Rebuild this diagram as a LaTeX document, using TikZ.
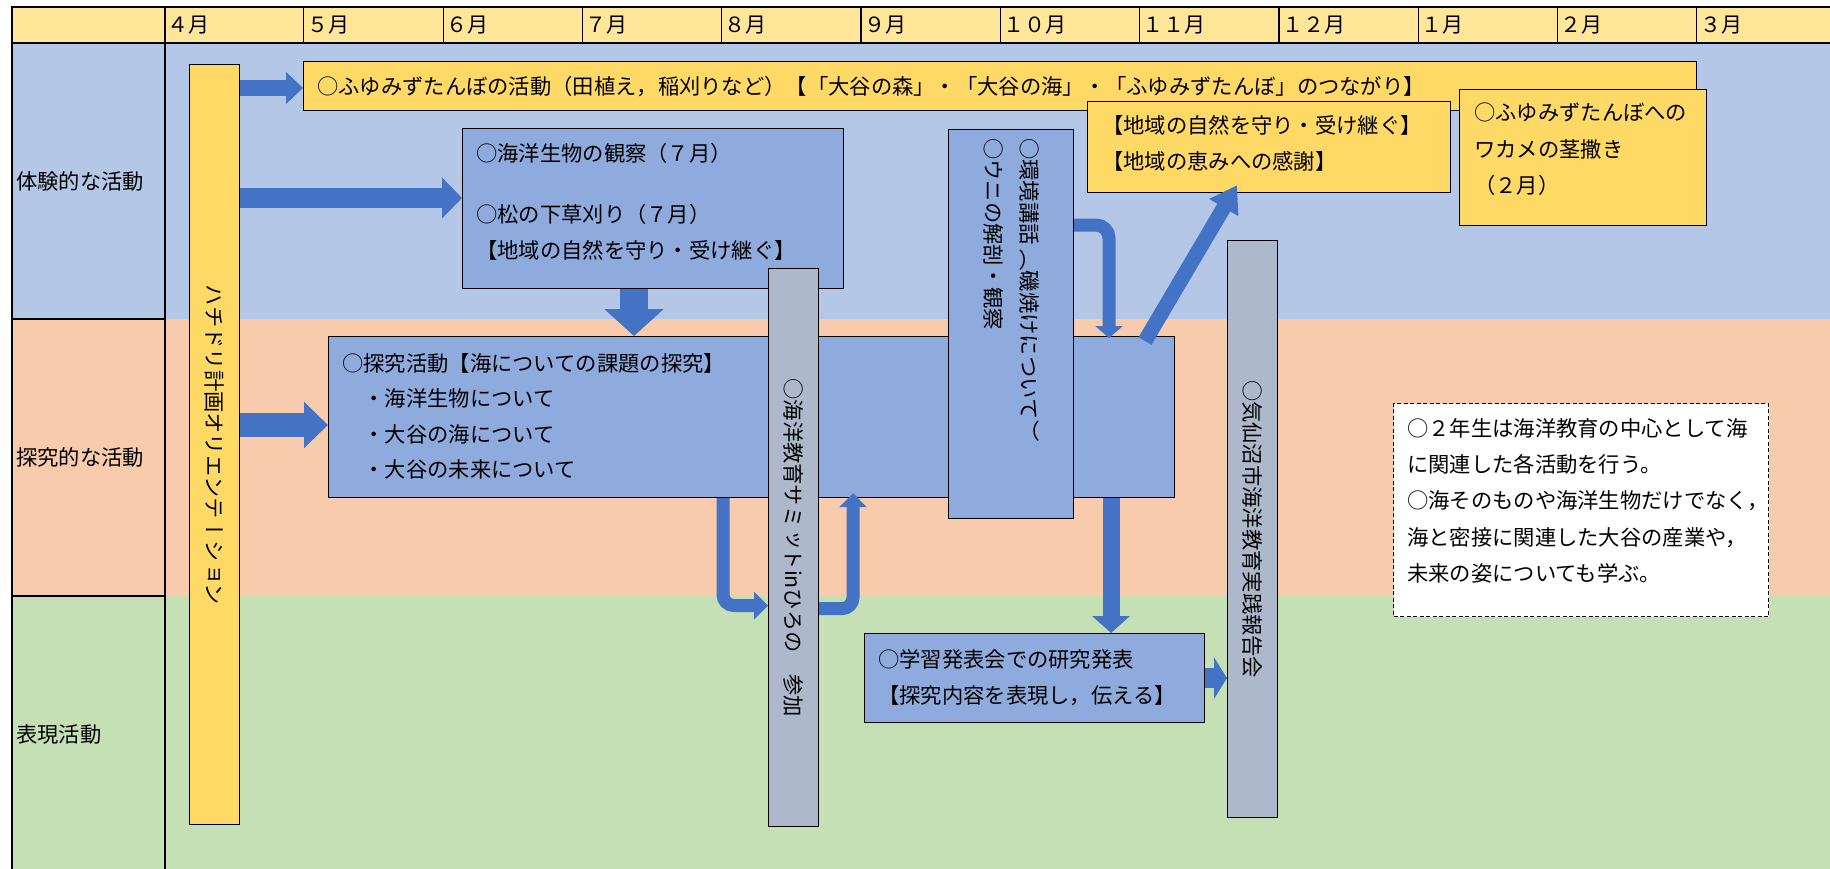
\documentclass[tikz,border=0pt]{standalone}
\usepackage{fontspec}
\setmainfont{Noto Sans CJK JP}
\newfontfamily\tatefont[Vertical=RotatedGlyphs]{Noto Sans CJK JP}
\usetikzlibrary{arrows.meta}

\definecolor{headyellow}{HTML}{FFE699}
\definecolor{taikenblue}{HTML}{B4C7E7}
\definecolor{tankyuorange}{HTML}{F8CBAD}
\definecolor{hyogengreen}{HTML}{C5E0B4}
\definecolor{boxblue}{HTML}{8FAADC}
\definecolor{boxyellow}{HTML}{FFD966}
\definecolor{bargray}{HTML}{ADB9CA}
\definecolor{arrowblue}{HTML}{4472C4}

\tikzset{
  box/.style={draw=black, line width=1.2pt, anchor=north west, inner sep=0pt},
  bluebox/.style={box, fill=boxblue},
  yellowbox/.style={box, fill=boxyellow},
  graybar/.style={box, fill=bargray},
  notebox/.style={box, fill=white, dash pattern=on 4pt off 2.5pt},
  txt/.style={anchor=north west, inner sep=0pt, align=left, font=\fontsize{21.3}{36}\selectfont},
  tate/.style={rotate=-90, inner sep=0pt, align=left, font=\tatefont\fontsize{21.3}{36}\selectfont},
  fat/.style={arrowblue, line width=#1},
}

\begin{document}
\begin{tikzpicture}[x=1pt,y=-1pt]
  \useasboundingbox (0,0) rectangle (1830,869);
  % rows
  \fill[headyellow] (11.7,7) rectangle (1830,43);
  \fill[taikenblue] (11.7,43) rectangle (1830,319);
  \fill[tankyuorange] (11.7,319) rectangle (1830,596);
  \fill[hyogengreen] (11.7,596) rectangle (1830,869);
  \draw[line width=2pt] (1830,7) -- (11.7,7) -- (11.7,869);
  \draw[line width=2pt] (11.7,43) -- (1830,43);
  \draw[line width=2pt] (164.5,7) -- (164.5,869);
  \draw[line width=2pt] (11.7,319) -- (164.5,319) (11.7,596) -- (164.5,596);
  \foreach \i in {1,...,11}
    \draw[line width=1.2pt] (164.5+139.3*\i,7) -- (164.5+139.3*\i,43);
  \foreach \m [count=\i from 0] in {４月,５月,６月,７月,８月,９月,１０月,１１月,１２月,１月,２月,３月}
    \node[anchor=west, inner sep=0pt, font=\fontsize{21}{21}\selectfont] (month\i) at (167.5+139.3*\i,25) {\m};

  \node[txt, anchor=west] (taiken) at (16,181) {体験的な活動};
  \node[txt, anchor=west] (tankyulbl) at (16,457) {探究的な活動};
  \node[txt, anchor=west] (hyogen) at (16,734) {表現活動};

  % boxes
  \node[yellowbox, minimum width=1393pt, minimum height=49pt] (fuyumizu) at (303,61) {};
  \node[txt, anchor=west] (fuyumizu-t) at ([shift={(14,0)}]fuyumizu.west)
    {○ふゆみずたんぼの活動（田植え，稲刈りなど）【「大谷の森」・「大谷の海」・「ふゆみずたんぼ」のつながり】};

  \node[yellowbox, minimum width=363pt, minimum height=91pt] (chiiki) at (1087,101) {};
  \node[txt] (chiiki-t) at ([shift={(15,14)}]chiiki.north west)
    {【地域の自然を守り・受け継ぐ】\\【地域の恵みへの感謝】};

  \node[yellowbox, minimum width=247pt, minimum height=136pt] (wakame) at (1459,89) {};
  \node[txt, font=\fontsize{21.3}{36.5}\selectfont] (wakame-t) at ([shift={(15,14)}]wakame.north west)
    {○ふゆみずたんぼへの\\ワカメの茎撒き\\（２月）};

  \node[bluebox, minimum width=381pt, minimum height=160pt] (kansatsu) at (462,128) {};
  \node[txt] (kansatsu-t) at ([shift={(14,15)}]kansatsu.north west)
    {○海洋生物の観察（７月）\\[25pt]○松の下草刈り（７月）\\【地域の自然を守り・受け継ぐ】};

  \node[bluebox, minimum width=846pt, minimum height=161pt] (tankyu) at (328,336) {};
  \node[txt, font=\fontsize{21.3}{35.5}\selectfont] (tankyu-t) at ([shift={(14,17)}]tankyu.north west)
    {○探究活動【海についての課題の探究】\\　・海洋生物について\\　・大谷の海について\\　・大谷の未来について};

  \node[bluebox, minimum width=125pt, minimum height=389pt] (kankyo) at (948,129) {};
  \node[tate, anchor=north west] (kankyo-t) at (1040,138)
    {○環境講話\kern5pt（磯焼けについて）\\○ウニの解剖・観察};

  \node[graybar, minimum width=50pt, minimum height=558pt] (summit) at (768,268) {};
  \node[tate] (summit-t) at (summit.center) {○海洋教育サミットinひろの　参加};

  \node[graybar, minimum width=50pt, minimum height=577pt] (kesen) at (1227,240) {};
  \node[tate] (kesen-t) at (kesen.center) {○気仙沼市海洋教育実践報告会};

  \node[yellowbox, minimum width=50pt, minimum height=760pt] (orient) at (188.5,64) {};
  \node[tate] (orient-t) at (orient.center) {ハチドリ計画オリエンテーション};

  \node[bluebox, minimum width=340pt, minimum height=89pt] (happyo) at (864,633) {};
  \node[txt] (happyo-t) at ([shift={(14,16)}]happyo.north west)
    {○学習発表会での研究発表\\【探究内容を表現し，伝える】};

  \node[notebox, minimum width=375pt, minimum height=213pt] (note) at (1393,403) {};
  \node[txt, font=\fontsize{21.3}{36.3}\selectfont] (note-t) at ([shift={(14,15)}]note.north west)
    {○２年生は海洋教育の中心として海\\に関連した各活動を行う。\\○海そのものや海洋生物だけでなく，\\海と密接に関連した大谷の産業や，\\未来の姿についても学ぶ。};

  % arrows
  \coordinate (o1) at ([shift={(0,24)}]orient.north east);
  \coordinate (o2) at ([shift={(0,134)}]orient.north east);
  \coordinate (o3) at ([shift={(0,361)}]orient.north east);
  \draw[fat=16pt, -{Triangle[width=31pt,length=17pt]}] (o1) -- (o1 -| fuyumizu.west);
  \draw[fat=20pt, -{Triangle[width=40pt,length=20pt]}] (o2) -- (o2 -| kansatsu.west);
  \draw[fat=24pt, -{Triangle[width=45pt,length=24pt]}] (o3) -- (o3 -| tankyu.west);

  \coordinate (k1) at ([shift={(172,0)}]kansatsu.south west);
  \draw[fat=28pt, -{Triangle[width=58pt,length=27pt]}] (k1) -- (k1 |- tankyu.north);

  \coordinate (t1) at ([shift={(395,0)}]tankyu.south west);
  \coordinate (s1) at ([shift={(0,58)}]summit.west);
  \draw[fat=13pt, rounded corners=11pt, -{Triangle[width=27pt,length=14pt]}] (t1) |- (s1);
  \coordinate (s2) at ([shift={(0,61)}]summit.east);
  \coordinate (t2) at ([shift={(525,-5)}]tankyu.south west);
  \draw[fat=13pt, rounded corners=11pt, -{Triangle[width=27pt,length=14pt]}] (s2) -| (t2);

  \coordinate (u1) at ([shift={(0,96)}]kankyo.north east);
  \coordinate (t3) at ([shift={(781,2)}]tankyu.north west);
  \draw[fat=13pt, rounded corners=13pt, -{Triangle[width=27pt,length=12pt]}] (u1) -| (t3);

  \coordinate (t4) at ([shift={(817,5)}]tankyu.north west);
  \coordinate (c2) at ([shift={(150,-8)}]chiiki.south west);
  \draw[fat=15pt, -{Triangle[width=32pt,length=26pt]}] (t4) -- (c2);

  \coordinate (t5) at ([shift={(783,0)}]tankyu.south west);
  \draw[fat=17pt, -{Triangle[width=37pt,length=17pt]}] (t5) -- (t5 |- happyo.north);
  \draw[fat=20pt, -{Triangle[width=41pt,length=13pt]}] (happyo.east) -- (happyo.east -| kesen.west);
\end{tikzpicture}
\end{document}
